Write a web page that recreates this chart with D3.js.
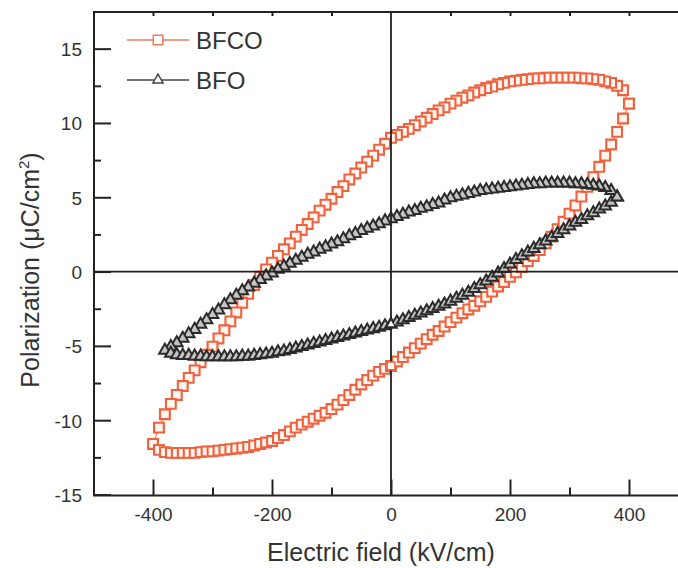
<!DOCTYPE html>
<html>
<head>
<meta charset="utf-8">
<script src="https://cdn.jsdelivr.net/npm/d3@7"></script>
<style>
  html, body { margin: 0; padding: 0; background: #fff; }
  svg { display: block; font-family: "Liberation Sans", Arial, sans-serif; }
</style>
</head>
<body>
<svg id="chart" width="678" height="568"></svg>
<script>
// Electric field grid (kV/cm) for each sample, BFCO sweep ±400, BFO sweep ±380
const bfcoField = [-400,-390,-380,-370,-360,-350,-340,-330,-320,-310,-300,-290,-280,-270,-260,-250,-240,-230,-220,-210,-200,-190,-180,-170,-160,-150,-140,-130,-120,-110,-100,-90,-80,-70,-60,-50,-40,-30,-20,-10,0,10,20,30,40,50,60,70,80,90,100,110,120,130,140,150,160,170,180,190,200,210,220,230,240,250,260,270,280,290,300,310,320,330,340,350,360,370,380,390,400];

// BFCO polarization (µC/cm²): descending branch (upper) and ascending branch (lower)
const bfcoUpper = [-11.6,-10.5,-9.6,-8.9,-8.3,-7.7,-7.15,-6.65,-6.1,-5.6,-5.05,-4.5,-3.95,-3.35,-2.75,-2.1,-1.5,-0.9,-0.35,0.15,0.6,1.05,1.5,1.9,2.35,2.8,3.2,3.65,4.1,4.5,4.9,5.35,5.75,6.2,6.6,7.0,7.4,7.8,8.2,8.6,9.0,9.2,9.4,9.6,9.85,10.1,10.35,10.6,10.85,11.05,11.3,11.5,11.7,11.85,12.05,12.2,12.35,12.45,12.6,12.7,12.8,12.85,12.9,12.95,13.0,13.0,13.05,13.05,13.05,13.05,13.05,13.05,13.0,13.0,12.95,12.9,12.8,12.7,12.5,12.2,11.3];
const bfcoLower = [-11.6,-12.0,-12.15,-12.2,-12.2,-12.2,-12.2,-12.2,-12.15,-12.1,-12.1,-12.05,-12.0,-11.95,-11.9,-11.85,-11.8,-11.7,-11.6,-11.5,-11.4,-11.2,-11.0,-10.75,-10.5,-10.3,-10.1,-9.9,-9.7,-9.5,-9.25,-8.95,-8.65,-8.3,-7.95,-7.6,-7.3,-7.0,-6.75,-6.55,-6.35,-6.05,-5.75,-5.45,-5.15,-4.85,-4.55,-4.25,-4.0,-3.7,-3.4,-3.1,-2.8,-2.55,-2.3,-2.0,-1.7,-1.35,-1.0,-0.7,-0.35,-0.05,0.3,0.7,1.05,1.45,1.9,2.35,2.85,3.35,3.9,4.45,5.05,5.7,6.35,7.05,7.8,8.55,9.4,10.3,11.3];

const bfoField = [-380,-370,-360,-350,-340,-330,-320,-310,-300,-290,-280,-270,-260,-250,-240,-230,-220,-210,-200,-190,-180,-170,-160,-150,-140,-130,-120,-110,-100,-90,-80,-70,-60,-50,-40,-30,-20,-10,0,10,20,30,40,50,60,70,80,90,100,110,120,130,140,150,160,170,180,190,200,210,220,230,240,250,260,270,280,290,300,310,320,330,340,350,360,370,380];

// BFO polarization (µC/cm²)
const bfoUpper = [-5.3,-5.05,-4.8,-4.5,-4.2,-3.9,-3.55,-3.25,-2.9,-2.6,-2.25,-1.9,-1.6,-1.3,-1.05,-0.8,-0.55,-0.3,-0.1,0.15,0.35,0.55,0.75,0.95,1.15,1.3,1.5,1.65,1.85,2.0,2.2,2.4,2.55,2.75,2.9,3.05,3.2,3.4,3.55,3.7,3.85,4.0,4.1,4.25,4.35,4.5,4.6,4.8,4.95,5.05,5.15,5.25,5.35,5.45,5.5,5.55,5.6,5.65,5.7,5.75,5.8,5.85,5.9,5.9,5.95,5.95,5.95,5.95,5.95,5.9,5.9,5.85,5.8,5.75,5.65,5.45,5.0];
const bfoLower = [-5.3,-5.5,-5.6,-5.65,-5.65,-5.7,-5.7,-5.75,-5.75,-5.75,-5.75,-5.75,-5.75,-5.7,-5.7,-5.65,-5.6,-5.55,-5.5,-5.4,-5.35,-5.25,-5.15,-5.05,-4.95,-4.85,-4.75,-4.65,-4.55,-4.45,-4.35,-4.25,-4.15,-4.05,-3.95,-3.85,-3.75,-3.65,-3.55,-3.4,-3.25,-3.1,-2.95,-2.8,-2.65,-2.5,-2.35,-2.2,-2.0,-1.8,-1.6,-1.4,-1.15,-0.9,-0.65,-0.4,-0.1,0.2,0.5,0.8,1.05,1.3,1.55,1.8,2.05,2.3,2.55,2.8,3.05,3.3,3.5,3.75,3.95,4.2,4.4,4.65,5.0];

const seriesNames = ["BFCO", "BFO"];
const xMajorTicks = [-400, -200, 0, 200, 400];
const xMinorTicks = [-300, -100, 100, 300];
const xTopTicks = [-400, -300, -200, -100, 100, 200, 300, 400];
const yMajorTicks = [-15, -10, -5, 0, 5, 10, 15];
const yMinorTicks = [-12.5, -7.5, -2.5, 2.5, 7.5, 12.5];

const svg = d3.select("#chart");
const W = 678, H = 568;
const plotLeft = 94, plotTop = 12, plotBottom = 495.5;

const x = d3.scaleLinear().domain([-500, 500]).range([93.5, 688.5]);
const y = d3.scaleLinear().domain([-15, 17.5]).range([494.5, 11.5]);

const axisColor = "#222";
const textColor = "#333";

// Build closed loop: descending branch from +Emax to -Emax, then ascending back
function loopPoints(field, upper, lower) {
  const pts = [];
  for (let i = field.length - 1; i >= 0; i--) pts.push([field[i], upper[i]]);
  for (let i = 1; i < field.length; i++) pts.push([field[i], lower[i]]);
  return pts;
}

const bfcoPts = loopPoints(bfcoField, bfcoUpper, bfcoLower);
const bfoPts = loopPoints(bfoField, bfoUpper, bfoLower);

const line = d3.line().x(d => x(d[0])).y(d => y(d[1]));

const plot = svg.append("g");

const red = "#f0623f";
const dark = "#2b2b2b";

const sq = d3.symbol().type(d3.symbolSquare).size(96);
const tri = d3.symbol().type(d3.symbolTriangle).size(58);

// BFCO loop
plot.append("path").attr("d", line(bfcoPts)).attr("fill", "none")
  .attr("stroke", red).attr("stroke-width", 1);
plot.append("g").selectAll("path").data(bfcoPts).join("path")
  .attr("d", sq)
  .attr("transform", d => `translate(${x(d[0])},${y(d[1])})`)
  .attr("fill", "#fff6f0").attr("stroke", red).attr("stroke-width", 2.1);

// BFO loop
plot.append("path").attr("d", line(bfoPts)).attr("fill", "none")
  .attr("stroke", dark).attr("stroke-width", 1);
plot.append("g").selectAll("path").data(bfoPts).join("path")
  .attr("d", tri)
  .attr("transform", d => `translate(${x(d[0])},${y(d[1])})`)
  .attr("fill", "#c4c4c4").attr("stroke", dark).attr("stroke-width", 2);

// Zero lines
svg.append("line").attr("x1", x(0)).attr("x2", x(0)).attr("y1", plotTop).attr("y2", plotBottom)
  .attr("stroke", axisColor).attr("stroke-width", 1.8);
svg.append("line").attr("x1", plotLeft).attr("x2", W).attr("y1", y(0)).attr("y2", y(0))
  .attr("stroke", axisColor).attr("stroke-width", 1.8);

// Sweep start points (E = 0 on the rising branch) sit on top of the zero line
const startIdxBfco = bfcoField.indexOf(0), startIdxBfo = bfoField.indexOf(0);
svg.append("path").attr("d", d3.symbol().type(d3.symbolSquare).size(60))
  .attr("transform", `translate(${x(0)},${y(bfcoLower[startIdxBfco])})`)
  .attr("fill", "#fff").attr("stroke", red).attr("stroke-width", 1.4);
svg.append("path").attr("d", d3.symbol().type(d3.symbolTriangle).size(34))
  .attr("transform", `translate(${x(0)},${y(bfoLower[startIdxBfo])})`)
  .attr("fill", "#fff").attr("stroke", dark).attr("stroke-width", 1.2);

// Frame
svg.append("line").attr("x1", plotLeft).attr("x2", plotLeft).attr("y1", plotTop).attr("y2", plotBottom)
  .attr("stroke", axisColor).attr("stroke-width", 2);
svg.append("line").attr("x1", plotLeft - 1).attr("x2", W).attr("y1", plotBottom).attr("y2", plotBottom)
  .attr("stroke", axisColor).attr("stroke-width", 2);
svg.append("line").attr("x1", plotLeft - 1).attr("x2", W).attr("y1", plotTop).attr("y2", plotTop)
  .attr("stroke", axisColor).attr("stroke-width", 2);

const fmt = d => String(d);

// Bottom axis: inward ticks
const xAxisMajor = d3.axisBottom(x).tickValues(xMajorTicks).tickFormat(fmt).tickSizeInner(-16).tickSizeOuter(0);
const xAxisMinor = d3.axisBottom(x).tickValues(xMinorTicks).tickSizeInner(-8).tickSizeOuter(0).tickFormat("");
const gx = svg.append("g").attr("transform", `translate(0,${plotBottom})`).call(xAxisMajor);
svg.append("g").attr("transform", `translate(0,${plotBottom})`).call(xAxisMinor);
svg.append("g").attr("transform", `translate(0,${plotTop})`)
  .call(d3.axisTop(x).tickValues(xTopTicks).tickSizeInner(-4).tickSizeOuter(0).tickFormat(""));

// Left axis: inward ticks
const yAxisMajor = d3.axisLeft(y).tickValues(yMajorTicks).tickFormat(fmt).tickSizeInner(-17).tickSizeOuter(0);
const yAxisMinor = d3.axisLeft(y).tickValues(yMinorTicks).tickSizeInner(-7).tickSizeOuter(0).tickFormat("");
const gy = svg.append("g").attr("transform", `translate(${plotLeft},0)`).call(yAxisMajor);
svg.append("g").attr("transform", `translate(${plotLeft},0)`).call(yAxisMinor);

svg.selectAll(".domain").remove();
svg.selectAll(".tick line").attr("stroke", axisColor).attr("stroke-width", 2);
svg.selectAll(".tick text").attr("fill", textColor).attr("font-size", 19)
  .attr("font-family", "'Liberation Sans', Arial, sans-serif");
gx.selectAll(".tick text").attr("dy", "0.71em").attr("y", 12);
gy.selectAll(".tick text").attr("x", -12).attr("dy", "0.36em");

// Axis titles
svg.append("text").attr("x", 381).attr("y", 561).attr("text-anchor", "middle")
  .attr("font-size", 25).attr("fill", textColor).text("Electric field (kV/cm)");

const yt = svg.append("text").attr("transform", "translate(39,270) rotate(-90)")
  .attr("text-anchor", "middle").attr("font-size", 25).attr("fill", textColor);
yt.append("tspan").text("Polarization (\u03BCC/cm");
yt.append("tspan").attr("font-size", 15).attr("dy", -10).text("2");
yt.append("tspan").attr("dy", 10).text(")");

// Legend
const legend = svg.append("g");
const legendRows = [
  { name: seriesNames[0], y: 40, color: "#ee7a62", sym: d3.symbol().type(d3.symbolSquare).size(90), fill: "#fff" },
  { name: seriesNames[1], y: 80, color: "#444", sym: d3.symbol().type(d3.symbolTriangle).size(45), fill: "#fff" }
];
legendRows.forEach(r => {
  legend.append("line").attr("x1", 127).attr("x2", 189).attr("y1", r.y).attr("y2", r.y)
    .attr("stroke", r.color).attr("stroke-width", 1.5);
  legend.append("path").attr("d", r.sym).attr("transform", `translate(158,${r.y})`)
    .attr("fill", r.fill).attr("stroke", r.color).attr("stroke-width", 1.5);
  legend.append("text").attr("x", 196).attr("y", r.y + 9).attr("font-size", 24)
    .attr("fill", textColor).text(r.name);
});
</script>
</body>
</html>
